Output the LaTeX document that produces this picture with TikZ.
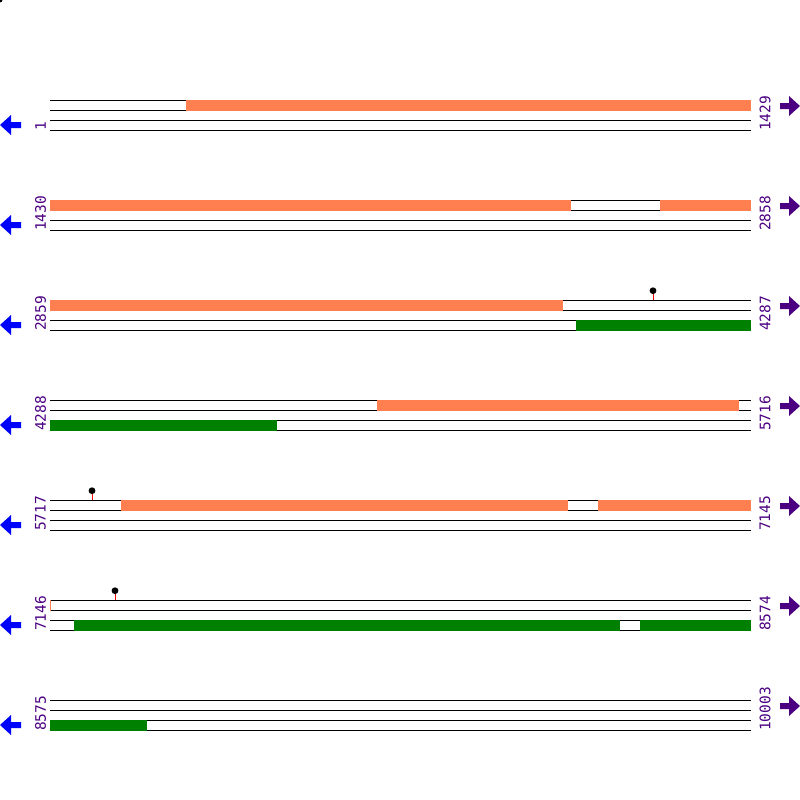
\documentclass[tikz,border=0pt]{standalone}
\usepackage{fontspec}
\setmonofont{DejaVu Sans Mono}
\definecolor{coral}{HTML}{FF7F50}
\definecolor{seqgreen}{HTML}{008000}
\definecolor{seqpurple}{HTML}{4B0082}
\tikzset{
  track/.style={draw=black,line width=1pt},
  fwdbox/.style={fill=coral},
  revbox/.style={fill=seqgreen},
  num/.style={text=seqpurple,font=\ttfamily\fontsize{14.5}{14.5}\selectfont,rotate=90,anchor=west,inner sep=0pt},
  stem/.style={draw=red,line width=1pt},
  knob/.style={fill=black},
  leftarr/.style={fill=blue},
  rightarr/.style={fill=seqpurple}
}
\begin{document}
\begin{tikzpicture}[x=1pt,y=-1pt]
    \useasboundingbox (0,0) rectangle (800,800);
    \fill (0,0) circle (2.5);

    \foreach \r/\a/\b in {0/1/1429,1/1430/2858,2/2859/4287,3/4288/5716,4/5717/7145,5/7146/8574,6/8575/10003}{
        \pgfmathsetmacro{\y}{100+100*\r}
        \foreach \d in {0,10,20,30}
            \draw[track] (50,\y+\d) -- (751,\y+\d);
        \node[num] (start\r) at (40.5,\y+31) {\a};
        \node[num] (end\r) at (765,\y+31) {\b};
        \fill[leftarr] (0,\y+25) -- (11,\y+15) -- (11,\y+22) -- (21,\y+22) -- (21,\y+28) -- (11,\y+28) -- (11,\y+35) -- cycle;
        \fill[rightarr] (800,\y+6) -- (789,\y-4) -- (789,\y+3) -- (780,\y+3) -- (780,\y+9) -- (789,\y+9) -- (789,\y+16) -- cycle;
    }

    \fill[fwdbox] (186,99.5) rectangle (751,110.5);

    \fill[fwdbox] (50,199.5) rectangle (571,210.5);
    \fill[fwdbox] (660,199.5) rectangle (751,210.5);

    \fill[fwdbox] (50,299.5) rectangle (563,310.5);
    \fill[revbox] (576,319.5) rectangle (751,330.5);
    \draw[stem] (653,300) -- (653,293);
    \fill[knob] (653,290.7) circle (3.4);

    \fill[fwdbox] (377,399.5) rectangle (739,410.5);
    \fill[revbox] (50,419.5) rectangle (277,430.5);

    \fill[fwdbox] (121,499.5) rectangle (568,510.5);
    \fill[fwdbox] (598,499.5) rectangle (751,510.5);
    \draw[stem] (92,500) -- (92,493);
    \fill[knob] (92,490.7) circle (3.4);

    \fill[fwdbox] (49.5,599.5) rectangle (50.5,610.5);
    \fill[revbox] (74,619.5) rectangle (620,630.5);
    \fill[revbox] (640,619.5) rectangle (751,630.5);
    \draw[stem] (115,600) -- (115,593);
    \fill[knob] (115,590.7) circle (3.4);

    \fill[revbox] (50,719.5) rectangle (147,730.5);
\end{tikzpicture}
\end{document}
